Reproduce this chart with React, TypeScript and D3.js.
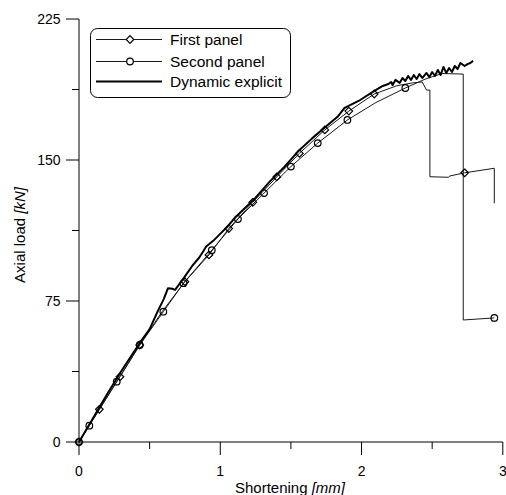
import React from "react";
import * as d3 from "d3";

const firstPanelX = [0, 0.07, 0.144, 0.29, 0.43, 0.59, 0.75, 0.92, 1.06, 1.23, 1.4, 1.56, 1.74, 1.91, 2.09, 2.25, 2.36, 2.43, 2.46, 2.484, 2.484, 2.614, 2.626, 2.73, 2.94, 2.94];
const firstPanelY = [0, 8.7, 17.4, 34.7, 51.6, 69.5, 85.3, 99.5, 113.5, 127.5, 141, 153.5, 166, 176, 185.1, 189.5, 191, 191.5, 187.2, 187.2, 141.1, 140.8, 141.5, 143.2, 145.6, 127];
const firstMarkerX = [0, 0.144, 0.29, 0.43, 0.75, 0.92, 1.06, 1.23, 1.4, 1.56, 1.74, 1.91, 2.09, 2.73];
const firstMarkerY = [0, 17.4, 34.7, 51.6, 85.3, 99.5, 113.5, 127.5, 141, 153.5, 166, 176, 185.1, 143.2];

const secondPanelX = [0, 0.073, 0.267, 0.43, 0.597, 0.74, 0.94, 1.125, 1.31, 1.5, 1.69, 1.9, 2.1, 2.31, 2.45, 2.57, 2.72, 2.72, 2.94];
const secondPanelY = [0, 8.7, 32.1, 51.6, 69.3, 84.5, 102, 118.6, 132.4, 146.5, 159, 171.3, 180.5, 188.3, 193, 196, 195.7, 64.9, 66];
const secondMarkerX = [0, 0.073, 0.267, 0.43, 0.597, 0.74, 0.94, 1.125, 1.31, 1.5, 1.69, 1.9, 2.31, 2.94];
const secondMarkerY = [0, 8.7, 32.1, 51.6, 69.3, 84.5, 102, 118.6, 132.4, 146.5, 159, 171.3, 188.3, 66];

const dynamicX = [0, 0.1, 0.2, 0.3, 0.43, 0.5, 0.56, 0.6, 0.63, 0.66, 0.68, 0.74, 0.8, 0.85, 0.88, 0.9, 0.95, 1.01, 1.05, 1.1, 1.19, 1.25, 1.35, 1.45, 1.55, 1.65, 1.75, 1.83, 1.88, 1.99, 2.08, 2.15, 2.19,
  2.21, 2.22, 2.24, 2.27, 2.29, 2.31, 2.33, 2.35, 2.37, 2.39, 2.41, 2.43, 2.46, 2.48, 2.5, 2.52, 2.54, 2.56, 2.58, 2.6, 2.62, 2.64, 2.66, 2.68, 2.7, 2.73, 2.75, 2.77, 2.79];
const dynamicY = [0, 12.8, 25.5, 37.8, 52.7, 60, 70, 76, 81.8, 81.5, 80.9, 87, 93.5, 98, 101.5, 104, 107, 111.5, 114.5, 119, 125.5, 130, 138.5, 146, 154.5, 161.5, 168, 173, 177.7, 181.9, 186.2, 189.4, 190.4,
  191.5, 189.9, 192.6, 191, 193.6, 192, 194.7, 192.6, 195.2, 193.1, 195.7, 193.6, 196.3, 194.1, 196.8, 194.7, 197.9, 195.2, 199.5, 196.3, 198.9, 196.8, 200, 198.4, 201.6, 200, 201, 201.6, 202.7];

const xMajor = [0, 1, 2, 3];
const xMinor = [0.5, 1.5, 2.5];
const yMajor = [0, 75, 150, 225];
const yMinor = [37.5, 112.5, 187.5];

const legendLabels = ["First panel", "Second panel", "Dynamic explicit"];

const FONT = "Liberation Sans, Arial, sans-serif";

function zip(xs: number[], ys: number[]): [number, number][] {
  return xs.map((x, i) => [x, ys[i]]);
}

function Diamond({ cx, cy, fill }: { cx: number; cy: number; fill: string }) {
  const r = 3.8;
  return (
    <path
      d={`M${cx},${cy - r}L${cx + r},${cy}L${cx},${cy + r}L${cx - r},${cy}Z`}
      fill={fill}
      stroke="#000"
      strokeWidth={1.2}
    />
  );
}

export default function App() {
  const x = d3.scaleLinear().domain([0, 3]).range([79, 502.8]);
  const y = d3.scaleLinear().domain([0, 225]).range([442, 19]);
  const line = d3
    .line<[number, number]>()
    .x((d) => x(d[0]))
    .y((d) => y(d[1]));

  const thin = "#1a1a1a";

  return (
    <svg
      width={506}
      height={495}
      style={{ position: "absolute", left: 0, top: 0, background: "#fff" }}
      fontFamily={FONT}
    >
      <rect width={506} height={495} fill="#fff" />
      {/* axes */}
      <line x1={x(0)} x2={x(3)} y1={y(0)} y2={y(0)} stroke="#000" strokeWidth={1} />
      <line x1={x(0)} x2={x(0)} y1={y(0)} y2={y(225)} stroke="#000" strokeWidth={1} />
      {xMajor.map((t) => (
        <g key={"xm" + t}>
          <line x1={x(t)} x2={x(t)} y1={y(0)} y2={y(0) + 13} stroke="#000" />
          <text x={x(t)} y={476} fontSize={14} textAnchor="middle">
            {t}
          </text>
        </g>
      ))}
      {xMinor.map((t) => (
        <line key={"xn" + t} x1={x(t)} x2={x(t)} y1={y(0)} y2={y(0) + 7} stroke="#000" />
      ))}
      {yMajor.map((t) => (
        <g key={"ym" + t}>
          <line x1={x(0) - 13} x2={x(0)} y1={y(t)} y2={y(t)} stroke="#000" />
          <text x={60.5} y={y(t)} dy="0.36em" fontSize={14} textAnchor="end">
            {t}
          </text>
        </g>
      ))}
      {yMinor.map((t) => (
        <line key={"yn" + t} x1={x(0) - 7} x2={x(0)} y1={y(t)} y2={y(t)} stroke="#000" />
      ))}
      <text x={290} y={492.5} fontSize={15} textAnchor="middle">
        Shortening <tspan fontStyle="italic">[mm]</tspan>
      </text>
      <text transform="translate(24.5,235) rotate(-90)" fontSize={15} textAnchor="middle">
        Axial load <tspan fontStyle="italic">[kN]</tspan>
      </text>

      {/* series */}
      <path d={line(zip(firstPanelX, firstPanelY)) || ""} fill="none" stroke={thin} strokeWidth={1} />
      <path d={line(zip(secondPanelX, secondPanelY)) || ""} fill="none" stroke={thin} strokeWidth={1} />
      <path d={line(zip(dynamicX, dynamicY)) || ""} fill="none" stroke="#000" strokeWidth={2} strokeLinejoin="round" />
      {firstMarkerX.map((v, i) => (
        <Diamond key={"d" + i} cx={x(v)} cy={y(firstMarkerY[i])} fill="none" />
      ))}
      {secondMarkerX.map((v, i) => (
        <circle key={"c" + i} cx={x(v)} cy={y(secondMarkerY[i])} r={3.3} fill="none" stroke="#000" strokeWidth={1.2} />
      ))}

      {/* legend */}
      <rect x={90.5} y={28.5} width={200} height={69} rx={7} fill="#fff" stroke="#000" strokeWidth={1} />
      {legendLabels.map((lab, i) => {
        const ly = [39.5, 61.5, 81.5][i];
        return (
          <g key={lab}>
            <line x1={96} x2={162} y1={ly} y2={ly} stroke={i === 2 ? "#000" : thin} strokeWidth={i === 2 ? 2 : 1} />
            {i === 0 && <Diamond cx={130} cy={ly} fill="#fff" />}
            {i === 1 && <circle cx={130} cy={ly} r={3.3} fill="#fff" stroke="#000" strokeWidth={1.2} />}
            <text x={170} y={ly} dy="0.36em" fontSize={15.5}>
              {lab}
            </text>
          </g>
        );
      })}
    </svg>
  );
}
